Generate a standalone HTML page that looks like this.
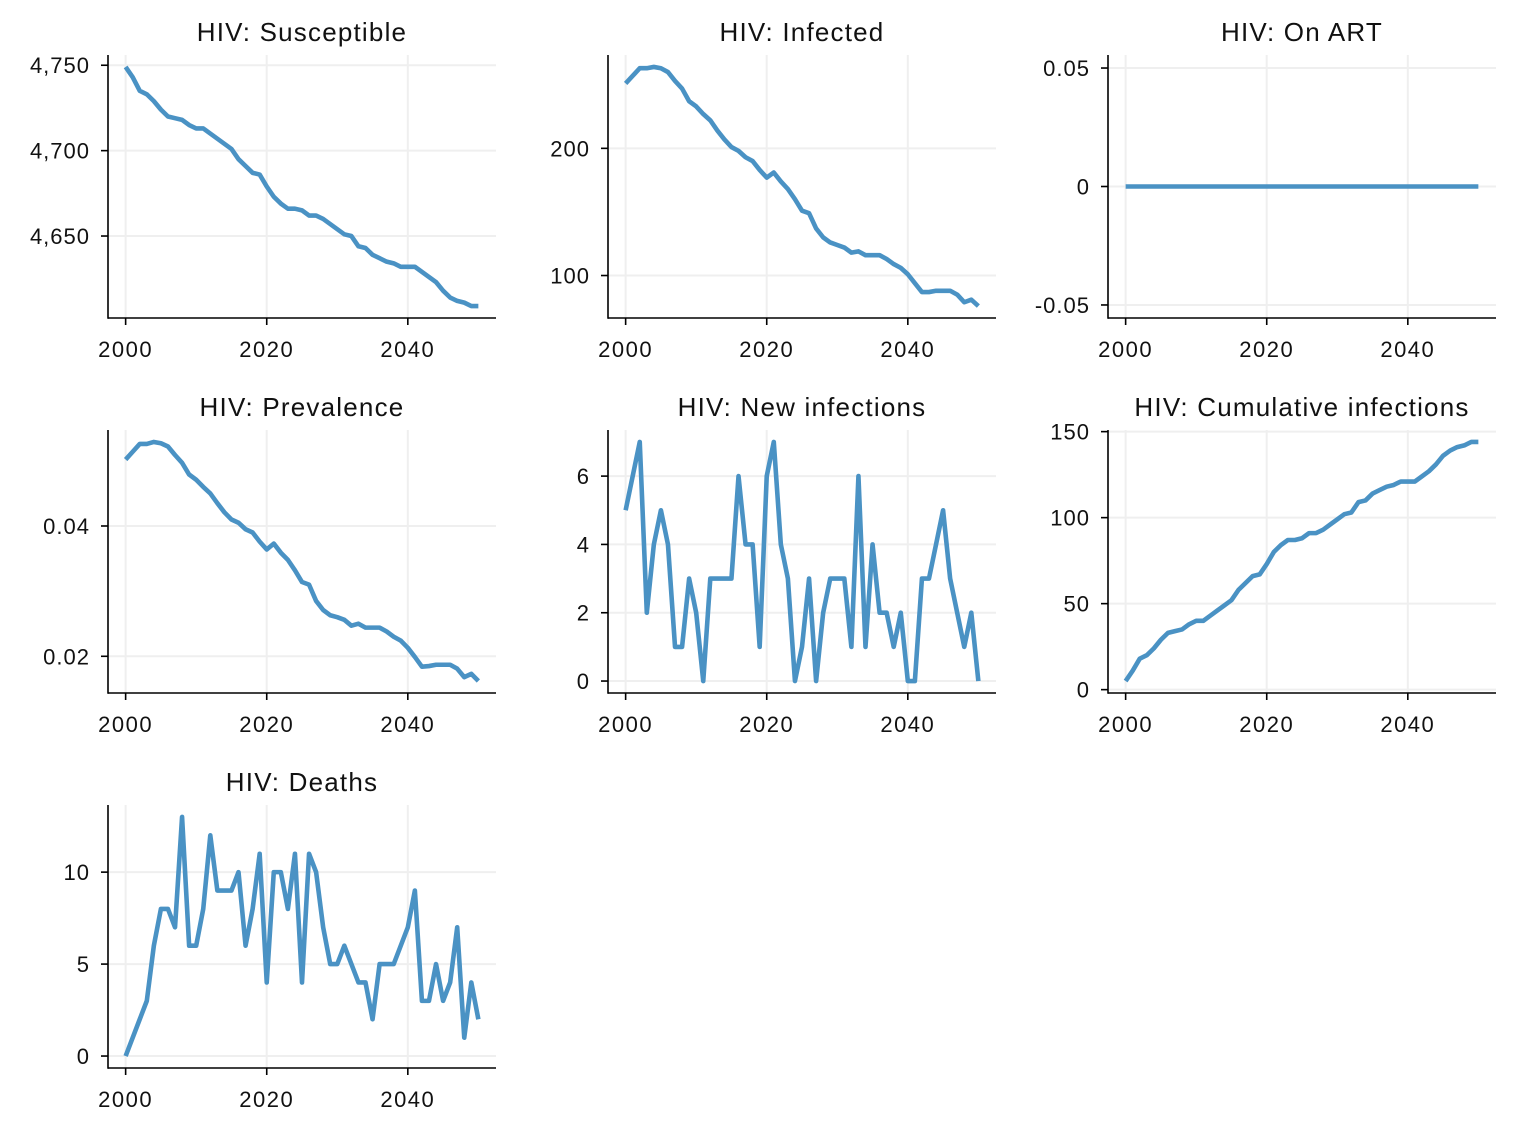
<!DOCTYPE html>
<html><head><meta charset="utf-8"><style>
html,body{margin:0;padding:0;background:#fff;}
svg{display:block;font-family:"Liberation Sans",sans-serif;}
</style></head><body>
<svg id="fig" width="1516" height="1132" viewBox="0 0 1516 1132"></svg>
<script>
const years = Array.from({length:51},(_,i)=>2000+i);
const susceptible = [4749,4743,4735,4733,4729,4724,4720,4719,4718,4715,4713,4713,4710,4707,4704,4701,4695,4691,4687,4686,4679,4673,4669,4666,4666,4665,4662,4662,4660,4657,4654,4651,4650,4644,4643,4639,4637,4635,4634,4632,4632,4632,4629,4626,4623,4618,4614,4612,4611,4609,4609];
const infected = [251,257,263,263,264,263,260,253,247,237,233,227,222,214,207,201,198,193,190,183,177,181,174,168,160,151,149,137,130,126,124,122,118,119,116,116,116,113,109,106,101,94,87,87,88,88,88,85,79,81,76];
const onArt = new Array(51).fill(0);
const prevalence = [.0502,.0514,.0526,.0526,.0529,.0527,.0522,.0509,.0497,.0479,.0471,.0460,.0450,.0435,.0421,.0410,.0405,.0395,.0390,.0376,.0364,.0373,.0359,.0348,.0332,.0314,.0310,.0285,.0271,.0263,.0260,.0256,.0247,.0250,.0244,.0244,.0244,.0238,.0230,.0224,.0213,.0199,.0184,.0185,.0187,.0187,.0187,.0181,.0168,.0173,.0162];
const newInfections = [5,6,7,2,4,5,4,1,1,3,2,0,3,3,3,3,6,4,4,1,6,7,4,3,0,1,3,0,2,3,3,3,1,6,1,4,2,2,1,2,0,0,3,3,4,5,3,2,1,2,0];
const cumInfections = [5,11,18,20,24,29,33,34,35,38,40,40,43,46,49,52,58,62,66,67,73,80,84,87,87,88,91,91,93,96,99,102,103,109,110,114,116,118,119,121,121,121,124,127,131,136,139,141,142,144,144];
const deaths = [0,1,2,3,6,8,8,7,13,6,6,8,12,9,9,9,10,6,8,11,4,10,10,8,11,4,11,10,7,5,5,6,5,4,4,2,5,5,5,6,7,9,3,3,5,3,4,7,1,4,2];
const xTicks = [2000,2020,2040];
const susTicks=[4650,4700,4750], susLabels=["4,650","4,700","4,750"];
const infTicks=[100,200], infLabels=["100","200"];
const artTicks=[-0.05,0,0.05], artLabels=["-0.05","0","0.05"];
const prevTicks=[0.02,0.04], prevLabels=["0.02","0.04"];
const newTicks=[0,2,4,6], newLabels=["0","2","4","6"];
const cumTicks=[0,50,100,150], cumLabels=["0","50","100","150"];
const deathTicks=[0,5,10], deathLabels=["0","5","10"];

const NS="http://www.w3.org/2000/svg";
const svg=document.getElementById('fig');
function mk(tag,attrs,parent){const e=document.createElementNS(NS,tag);for(const k in attrs)e.setAttribute(k,attrs[k]);(parent||svg).appendChild(e);return e;}

const panels=[
 {title:"HIV: Susceptible",data:susceptible,ticks:susTicks,labels:susLabels,col:0,row:0,name:"susceptible"},
 {title:"HIV: Infected",data:infected,ticks:infTicks,labels:infLabels,col:1,row:0,name:"infected"},
 {title:"HIV: On ART",data:onArt,ticks:artTicks,labels:artLabels,col:2,row:0,name:"on-art"},
 {title:"HIV: Prevalence",data:prevalence,ticks:prevTicks,labels:prevLabels,col:0,row:1,name:"prevalence"},
 {title:"HIV: New infections",data:newInfections,ticks:newTicks,labels:newLabels,col:1,row:1,name:"new-infections"},
 {title:"HIV: Cumulative infections",data:cumInfections,ticks:cumTicks,labels:cumLabels,col:2,row:1,name:"cumulative-infections"},
 {title:"HIV: Deaths",data:deaths,ticks:deathTicks,labels:deathLabels,col:0,row:2,name:"deaths"}
];
const colL=[108,608,1108], rowT=[55,430,805], W=388, H=263;

panels.forEach(p=>{
  const L=colL[p.col], T=rowT[p.row], B=T+H, R=L+W;
  const g=mk('g',{});
  
  
  const x0=2000,x1=2050,xp=(x1-x0)*0.05;
  const xs=v=>L+(v-(x0-xp))/((x1-x0)+2*xp)*W;
  let mn=Math.min(...p.data), mx=Math.max(...p.data);
  let lo,hi;
  if(mx===mn){lo=mn-0.0555;hi=mx+0.0555;}else{const pd=(mx-mn)*0.05;lo=mn-pd;hi=mx+pd;}
  const ys=v=>B-(v-lo)/(hi-lo)*H;
  xTicks.forEach(t=>{const l=mk('line',{x1:xs(t),x2:xs(t),y1:T,y2:B,stroke:'#efefef','stroke-width':2},g);
    });
  p.ticks.forEach((t,i)=>{
    const y=ys(t);
    const l=mk('line',{x1:L,x2:R,y1:y,y2:y,stroke:'#efefef','stroke-width':2},g);
    
    mk('line',{x1:L-7,x2:L,y1:y,y2:y,stroke:'#000','stroke-width':1.6},g);
    const tx=mk('text',{x:L-18,y:y+8,'text-anchor':'end','font-size':22,'letter-spacing':1,fill:'#111'},g);
    tx.textContent=p.labels[i];
    
  });
  xTicks.forEach(t=>{
    mk('line',{x1:xs(t),x2:xs(t),y1:B,y2:B+7,stroke:'#000','stroke-width':1.6},g);
    const tx=mk('text',{x:xs(t),y:B+39,'text-anchor':'middle','font-size':22,'letter-spacing':1.5,fill:'#111'},g);
    tx.textContent=t;
    
  });
  const d=p.data.map((v,i)=>(i?'L':'M')+xs(years[i]).toFixed(2)+','+ys(v).toFixed(2)).join('');
  const path=mk('path',{d:d,fill:'none',stroke:'#4a92c4','stroke-width':4.6,'stroke-linejoin':'round'},g);
  
  
  mk('line',{x1:L,x2:L,y1:T,y2:B+0.8,stroke:'#000','stroke-width':1.6},g);
  mk('line',{x1:L,x2:R,y1:B,y2:B,stroke:'#000','stroke-width':1.6},g);
  const tt=mk('text',{x:L+W/2,y:T-14,'text-anchor':'middle','font-size':26,'letter-spacing':1.2,fill:'#111'},g);
  tt.textContent=p.title;
  
  
});
</script>
</body></html>
